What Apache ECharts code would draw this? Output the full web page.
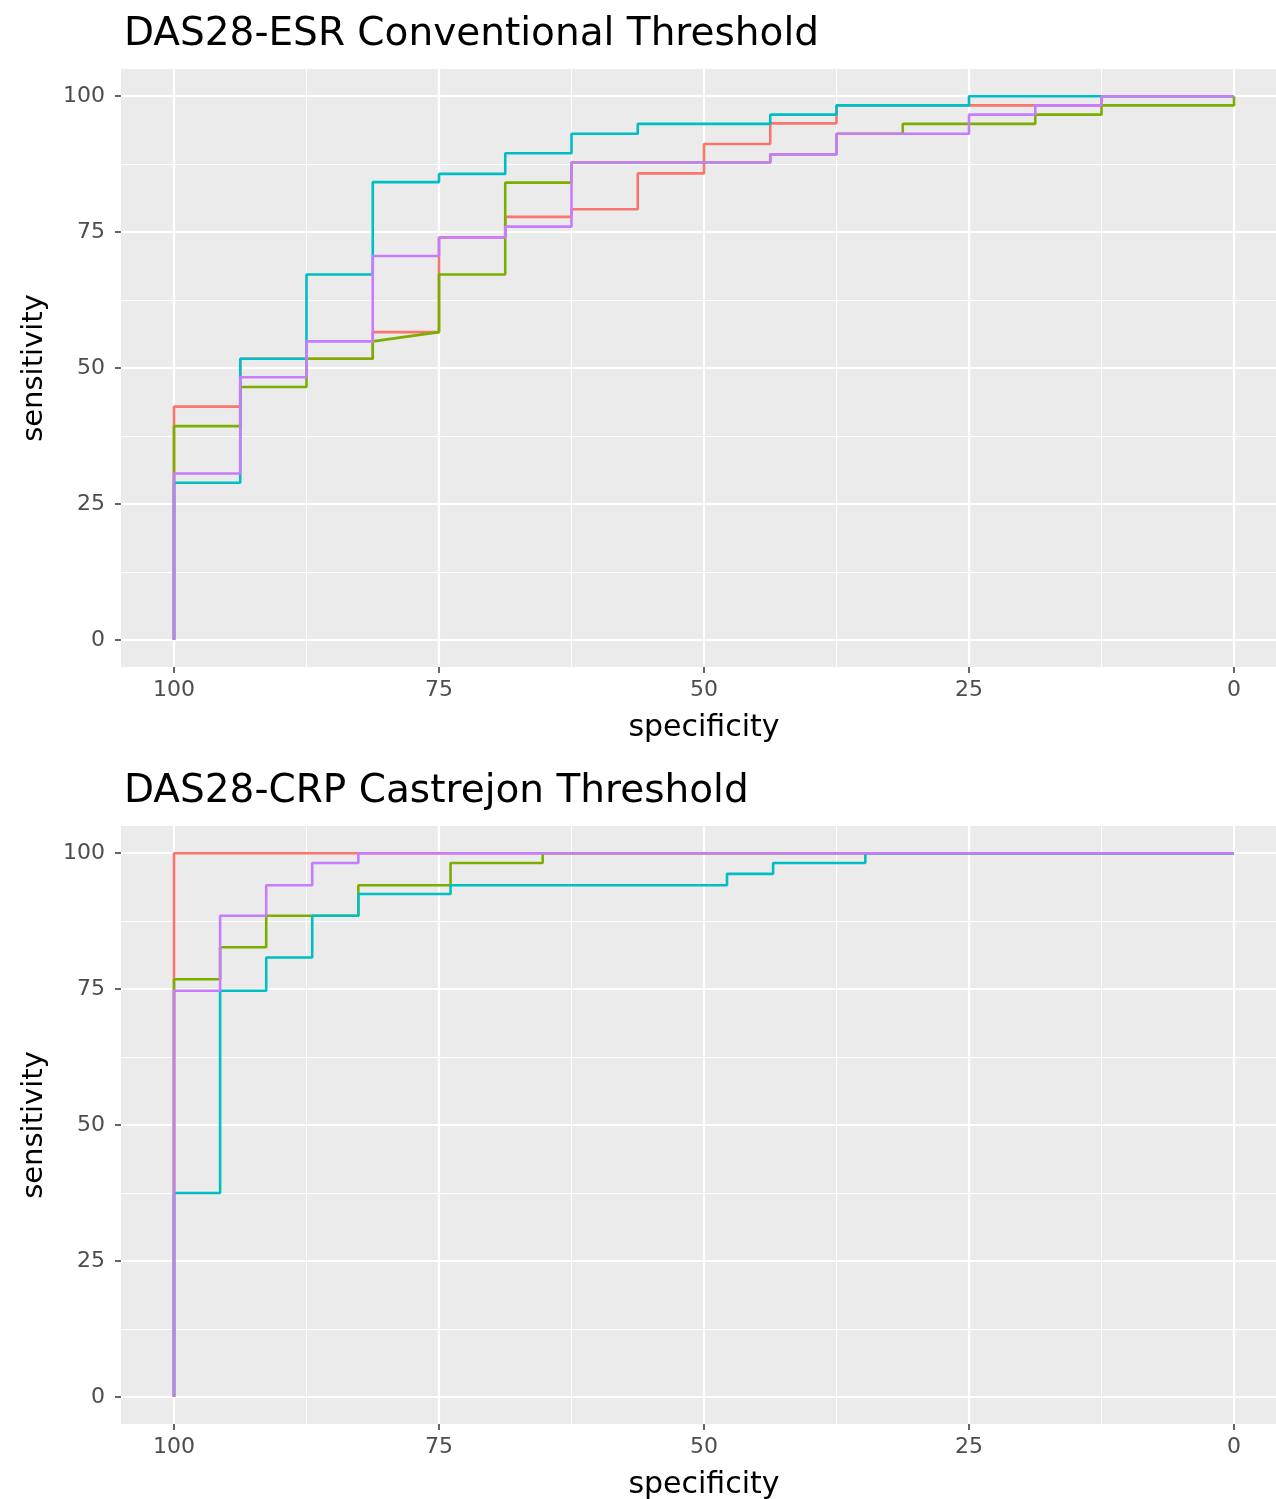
<!DOCTYPE html>
<html>
<head>
<meta charset="utf-8">
<script src="https://cdn.jsdelivr.net/npm/echarts@6/dist/echarts.min.js"></script>
<style>
  html, body { margin: 0; padding: 0; background: #fff; }
  #chart { width: 1276px; height: 1499px; }
</style>
</head>
<body>
<div id="chart"></div>
<script>
// ROC points [specificity, sensitivity]
const titles = ['DAS28-ESR Conventional Threshold', 'DAS28-CRP Castrejon Threshold'];
const majorTicks = [0, 25, 50, 75, 100];
const minorTicks = [12.5, 37.5, 62.5, 87.5];
const colors = ['#F8766D', '#7CAE00', '#00BFC4', '#C77CFF'];

// top panel
const esrRed = [[100,0],[100,42.9],[93.75,42.9],[93.75,51.7],[81.25,51.7],[81.25,56.6],[75,56.6],[75,74.0],
  [68.75,74.0],[68.75,77.8],[62.5,77.8],[62.5,79.2],[56.25,79.2],[56.25,85.8],[50,85.8],[50,91.2],
  [43.75,91.2],[43.75,95.0],[37.5,95.0],[37.5,98.3],[12.5,98.3],[12.5,100],[0,100]];
const esrGreen = [[100,0],[100,39.3],[93.75,39.3],[93.75,46.5],[87.5,46.5],[87.5,51.7],[81.25,51.7],[81.25,54.9],
  [75,56.6],[75,67.2],[68.75,67.2],[68.75,84.1],[62.5,84.1],[62.5,87.8],[43.75,87.8],[43.75,89.3],
  [37.5,89.3],[37.5,93.1],[31.25,93.1],[31.25,94.9],[18.75,94.9],[18.75,96.6],[12.5,96.6],[12.5,98.3],
  [0,98.3],[0,100]];
const esrCyan = [[100,0],[100,28.9],[93.75,28.9],[93.75,51.7],[87.5,51.7],[87.5,67.2],[81.25,67.2],[81.25,84.2],
  [75,84.2],[75,85.7],[68.75,85.7],[68.75,89.5],[62.5,89.5],[62.5,93.1],[56.25,93.1],[56.25,94.9],
  [43.75,94.9],[43.75,96.6],[37.5,96.6],[37.5,98.3],[25,98.3],[25,100],[0,100]];
const esrPurple = [[100,0],[100,30.6],[93.75,30.6],[93.75,48.3],[87.5,48.3],[87.5,54.9],[81.25,54.9],[81.25,70.6],
  [75,70.6],[75,74.0],[68.75,74.0],[68.75,76.0],[62.5,76.0],[62.5,87.8],[43.75,87.8],[43.75,89.3],
  [37.5,89.3],[37.5,93.1],[25,93.1],[25,96.6],[18.75,96.6],[18.75,98.3],[12.5,98.3],[12.5,100],[0,100]];

// bottom panel
const crpRed = [[100,0],[100,100],[0,100]];
const crpGreen = [[100,0],[100,76.8],[95.65,76.8],[95.65,82.7],[91.3,82.7],[91.3,88.5],[82.61,88.5],[82.61,94.1],
  [73.91,94.1],[73.91,98.2],[65.22,98.2],[65.22,100],[0,100]];
const crpCyan = [[100,0],[100,37.5],[95.65,37.5],[95.65,74.7],[91.3,74.7],[91.3,80.8],[86.96,80.8],[86.96,88.5],
  [82.61,88.5],[82.61,92.5],[73.91,92.5],[73.91,94.1],[47.83,94.1],[47.83,96.2],[43.48,96.2],[43.48,98.2],
  [34.78,98.2],[34.78,100],[0,100]];
const crpPurple = [[100,0],[100,74.7],[95.65,74.7],[95.65,88.5],[91.3,88.5],[91.3,94.1],[86.96,94.1],[86.96,98.2],
  [82.61,98.2],[82.61,100],[0,100]];

const panels = [
  [esrRed, esrGreen, esrCyan, esrPurple],
  [crpRed, crpGreen, crpCyan, crpPurple]
];
const gridTops = [69, 826];

const font = 'DejaVu Sans';
const chart = echarts.init(document.getElementById('chart'));

const grid = [], xAxis = [], yAxis = [], series = [], title = [];
gridTops.forEach((top, g) => {
  grid.push({
    left: 121, top: top, width: 1166, height: 598,
    outerBoundsMode: 'none', containLabel: false,
    show: true, backgroundColor: '#EBEBEB', borderWidth: 0
  });
  title.push({
    text: titles[g], left: 119, top: top - 59,
    textStyle: { fontFamily: font, fontSize: 39, fontWeight: 'normal', color: '#000' }
  });
  // major axes (labels, ticks, major grid)
  xAxis.push({
    type: 'value', gridIndex: g, min: -5, max: 105, inverse: true, position: 'bottom',
    name: 'specificity', nameLocation: 'middle', nameGap: 46,
    nameTextStyle: { fontFamily: font, fontSize: 30, color: '#000' },
    axisLine: { show: false, onZero: false },
    axisTick: { show: true, length: 6, customValues: majorTicks, lineStyle: { color: '#333', width: 1.5 } },
    axisLabel: { customValues: majorTicks, margin: 12, fontFamily: font, fontSize: 22, color: '#4d4d4d' },
    splitLine: { show: true, lineStyle: { color: '#fff', width: 2.2 } }
  });
  yAxis.push({
    type: 'value', gridIndex: g, min: -5, max: 105, position: 'left',
    name: 'sensitivity', nameLocation: 'middle', nameGap: 72,
    nameTextStyle: { fontFamily: font, fontSize: 29, color: '#000' },
    axisLine: { show: false, onZero: false },
    axisTick: { show: true, length: 6, customValues: majorTicks, lineStyle: { color: '#333', width: 1.5 } },
    axisLabel: { customValues: majorTicks, margin: 16, fontFamily: font, fontSize: 22, color: '#4d4d4d' },
    splitLine: { show: true, lineStyle: { color: '#fff', width: 2.2 } }
  });
  // minor grid axes
  xAxis.push({
    type: 'value', gridIndex: g, min: -5, max: 105, inverse: true, position: 'bottom',
    axisLine: { show: false, onZero: false }, axisLabel: { show: false },
    axisTick: { show: false, customValues: minorTicks },
    splitLine: { show: true, lineStyle: { color: '#fff', width: 1 } }
  });
  yAxis.push({
    type: 'value', gridIndex: g, min: -5, max: 105, position: 'left',
    axisLine: { show: false, onZero: false }, axisLabel: { show: false },
    axisTick: { show: false, customValues: minorTicks },
    splitLine: { show: true, lineStyle: { color: '#fff', width: 1 } }
  });
  panels[g].forEach((pts, i) => {
    series.push({
      type: 'line', name: 'curve ' + (i + 1),
      xAxisIndex: g * 2, yAxisIndex: g * 2,
      data: pts, showSymbol: false, symbol: 'none', z: 3,
      lineStyle: { color: colors[i], width: 2.6 },
      itemStyle: { color: colors[i] },
      animation: false
    });
  });
});

chart.setOption({
  backgroundColor: '#fff',
  animation: false,
  title: title,
  grid: grid,
  xAxis: xAxis,
  yAxis: yAxis,
  series: series
});
</script>
</body>
</html>
